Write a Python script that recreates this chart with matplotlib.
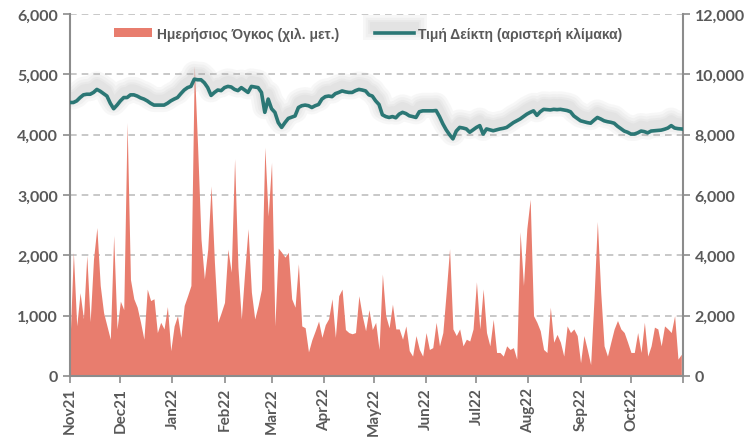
import numpy as np
import pandas as pd
import matplotlib
matplotlib.use("Agg")
import matplotlib.pyplot as plt
import matplotlib.patheffects as pe

plt.rcParams['font.family'] = ['Lato', 'Noto Sans', 'DejaVu Sans']
plt.rcParams['font.weight'] = 'bold'

# ---- data (one value every 2 days) ----
dates = pd.date_range('2021-11-01', periods=183, freq='2D')

volume = [1120, 4100, 1660, 2760, 1900, 4000, 1800, 3880, 4920, 3000,
          2100, 1660, 1220, 4660, 1560, 2480, 2200, 8400, 3200, 2560,
          2280, 1780, 1220, 2880, 2500, 2560, 1440, 1780, 1560, 2300,
          840, 1660, 2000, 1280, 2340, 2660, 3000, 10280, 7580, 4540,
          3220, 4200, 6300, 3760, 1780, 2100, 2440, 4200, 3440, 7200,
          3600, 1890, 3440, 4880, 2780, 1890, 2340, 2880, 7580, 5300,
          7080, 1660, 4240, 4100, 3940, 4100, 2560, 2280, 3720, 1660,
          1600, 800, 1200, 1500, 1820, 1280, 1700, 1900, 2560, 1280,
          2660, 2880, 1540, 1440, 1400, 1440, 2660, 2000, 1500, 2200,
          1540, 1780, 880, 3380, 2000, 1600, 2380, 1560, 1560, 1220,
          1660, 840, 660, 1340, 880, 660, 1440, 880, 940, 1780,
          1000, 1440, 2780, 4220, 1560, 1340, 1560, 1000, 1220, 1160,
          1560, 3120, 1560, 2880, 1440, 1000, 1880, 780, 780, 660,
          1000, 880, 940, 560, 4780, 3000, 4880, 5860, 2000, 1780,
          1500, 880, 780, 2280, 1120, 1380, 1120, 660, 1660, 1440,
          1560, 1340, 440, 1340, 880, 380, 2560, 5120, 2780, 1000,
          660, 1120, 1560, 1840, 1560, 1440, 1120, 780, 780, 1440,
          780, 1780, 660, 1000, 1620, 1560, 1000, 1660, 1560, 1440,
          2000, 560, 720]

index_level = [4533, 4533, 4560, 4615, 4660, 4670, 4670, 4700, 4750, 4720,
               4680, 4640, 4520, 4430, 4490, 4560, 4615, 4615, 4660, 4660,
               4640, 4610, 4590, 4560, 4520, 4490, 4490, 4490, 4490, 4520,
               4560, 4590, 4615, 4680, 4740, 4780, 4800, 4920, 4910, 4910,
               4860, 4780, 4650, 4700, 4740, 4730, 4780, 4800, 4790, 4750,
               4730, 4780, 4740, 4700, 4800, 4790, 4780, 4700, 4370, 4590,
               4430, 4370, 4200, 4120, 4200, 4270, 4290, 4310, 4450, 4480,
               4490, 4480, 4450, 4480, 4500, 4590, 4630, 4640, 4630, 4680,
               4700, 4725, 4710, 4700, 4700, 4730, 4750, 4740, 4725, 4660,
               4640, 4560, 4500, 4330, 4300, 4285, 4300, 4280, 4340, 4370,
               4350, 4313, 4300, 4285, 4380, 4395, 4395, 4395, 4395, 4400,
               4300, 4180, 4080, 4000, 3930, 4060, 4120, 4110, 4095, 4040,
               4080, 4120, 4150, 4010, 4095, 4080, 4065, 4080, 4095, 4105,
               4120, 4160, 4200, 4230, 4260, 4300, 4340, 4370, 4395, 4320,
               4380, 4420, 4415, 4410, 4420, 4415, 4420, 4410, 4400, 4380,
               4310, 4270, 4230, 4215, 4200, 4190, 4240, 4285, 4260, 4230,
               4215, 4205, 4190, 4140, 4100, 4060, 4040, 4010, 4010, 4030,
               4060, 4050, 4030, 4060, 4065, 4070, 4075, 4090, 4110, 4150,
               4110, 4100, 4095]

month_ticks = pd.date_range('2021-11-01', '2022-11-01', freq='MS')
month_labels = [d.strftime('%b%y') for d in month_ticks[:-1]] + ['']

label_vol = 'Ημερήσιος Όγκος (χιλ. μετ.)'
label_idx = 'Τιμή Δείκτη (αριστερή κλίμακα)'

# ---- colours ----
c_area = '#E87D6E'
c_line = '#2B7775'
c_text = '#595959'
c_axis = '#8C8C8C'
c_grid = '#BFBFBF'

fig = plt.figure(figsize=(7.53, 4.39), dpi=100)
ax = fig.add_axes([70/753, 1-377/439, 613/753, 362/439])
ax2 = ax.twinx()

# volume area on the right axis, gridlines under it
ax2.fill_between(dates, volume, 0, color=c_area, lw=0, zorder=2, label=label_vol)
ax2.set_ylim(0, 12000)
ax2.set_yticks(np.arange(0, 12001, 2000))
ax2.yaxis.grid(True, color=c_grid, ls=(0, (4, 3)), lw=1.2, zorder=0)
ax2.set_axisbelow(True)

# index line on the left axis, drawn on top (soft grey shadow under it)
ax.set_zorder(ax2.get_zorder() + 1)
ax.patch.set_visible(False)
shadow = [pe.SimpleLineShadow(offset=(0, 4), shadow_color='#999999', alpha=0.07, linewidth=w)
          for w in (18, 14, 10, 7)]
ax.plot(dates, index_level, color=c_line, lw=2.6, solid_joinstyle='round',
        path_effects=shadow + [pe.Normal()], label=label_idx, zorder=3)
ax.set_ylim(0, 6000)
ax.set_yticks(np.arange(0, 6001, 1000))

ax.set_xlim(pd.Timestamp('2021-11-01'), pd.Timestamp('2022-11-01'))
ax.set_xticks(month_ticks)
ax.set_xticklabels(month_labels, rotation=90)

fmt = lambda v, p: f'{int(v):,}'
ax.yaxis.set_major_formatter(plt.FuncFormatter(fmt))
ax2.yaxis.set_major_formatter(plt.FuncFormatter(fmt))

for a in (ax, ax2):
    for s in a.spines.values():
        s.set_visible(False)
    a.tick_params(colors=c_axis, labelcolor=c_text, labelsize=11.5, width=1.2, length=5)
ax.spines['left'].set_visible(True)
ax.spines['bottom'].set_visible(True)
ax2.spines['right'].set_visible(True)
for s in (ax.spines['left'], ax.spines['bottom'], ax2.spines['right']):
    s.set_color(c_axis)
    s.set_linewidth(1.5)
ax.tick_params(axis='x', pad=3, labelsize=11)

h1, l1 = ax2.get_legend_handles_labels()
h2, l2 = ax.get_legend_handles_labels()
leg = ax.legend(h1 + h2, l1 + l2, loc='upper center', bbox_to_anchor=(0.486, 1.0),
                ncol=2, frameon=False, handlelength=2.8,
                prop={'family': 'Liberation Sans', 'weight': 'bold', 'size': 10},
                handleheight=0.6, columnspacing=2.6, handletextpad=0.3)
for t in leg.get_texts():
    t.set_color(c_text)

fig.savefig('out.png', dpi=100)
